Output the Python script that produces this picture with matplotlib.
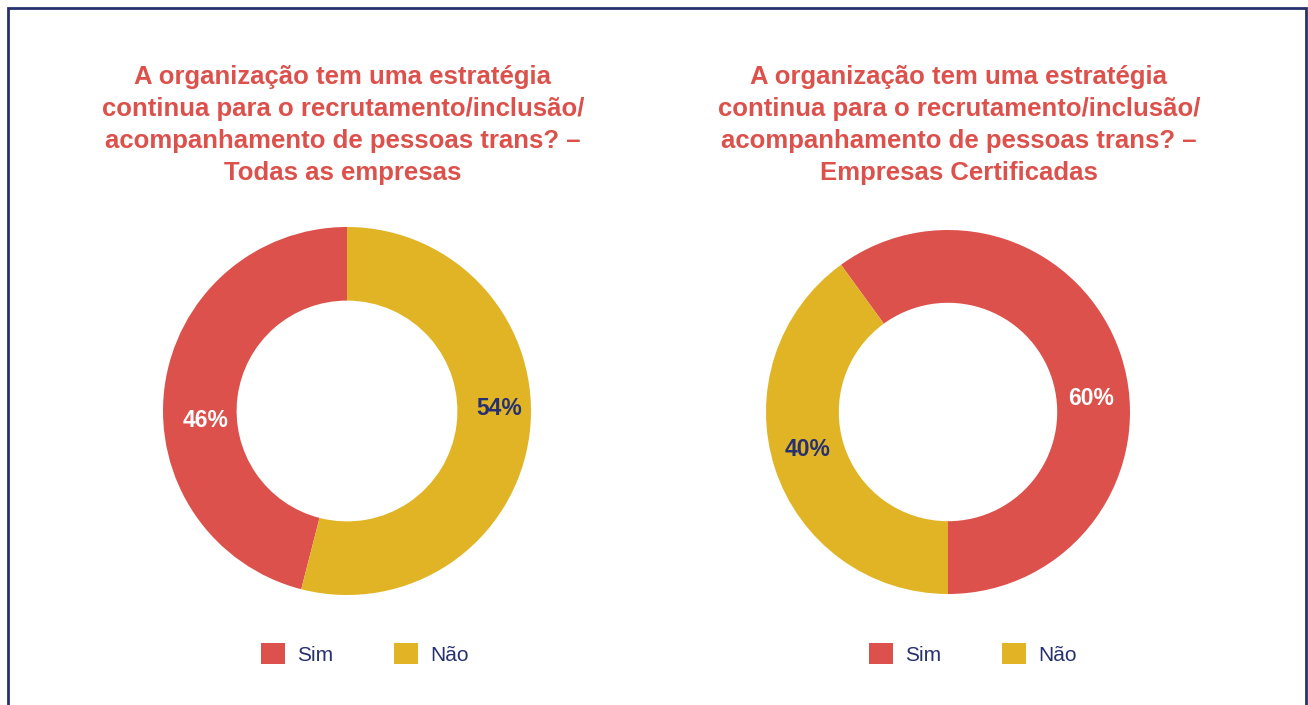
import numpy as np
import matplotlib
matplotlib.use("Agg")
import matplotlib.pyplot as plt
from matplotlib.patches import Patch, Rectangle

# colours
RED = '#dc514b'
YELLOW = '#e1b425'
NAVY = '#27316f'

plt.rcParams['font.family'] = ['Liberation Sans', 'DejaVu Sans']

categories = ['Sim', 'Não']
titles = [
    "A organização tem uma estratégia\ncontinua para o recrutamento/inclusão/\n"
    "acompanhamento de pessoas trans? –\nTodas as empresas",
    "A organização tem uma estratégia\ncontinua para o recrutamento/inclusão/\n"
    "acompanhamento de pessoas trans? –\nEmpresas Certificadas",
]
todas = [46, 54]
certificadas = [60, 40]

# chart layout (pixels on a 1308x705 canvas)
W, H = 1308, 705
panels = [
    dict(vals=todas, cx=347, cy=411, r=184, start=90, title_x=343,
         lab_ang=[184, 1], lab_r=[0.77, 0.83], legend_x=365),
    dict(vals=certificadas, cx=948, cy=412, r=182, start=270, title_x=959,
         lab_ang=[5.5, 195], lab_r=[0.79, 0.80], legend_x=973),
]
label_colors = ['white', NAVY]

fig = plt.figure(figsize=(W / 100, H / 100), dpi=100)
fig.patch.set_facecolor('white')

for p in panels:
    ax = fig.add_axes([(p['cx'] - p['r']) / W, (H - p['cy'] - p['r']) / H,
                       2 * p['r'] / W, 2 * p['r'] / H])
    ax.pie(p['vals'], colors=[RED, YELLOW], startangle=p['start'],
           counterclock=True, radius=1.0,
           wedgeprops=dict(width=0.4, edgecolor='none'))
    ax.set_xlim(-1, 1)
    ax.set_ylim(-1, 1)
    ax.set_aspect('equal')
    ax.axis('off')

    for v, ang, rr, c in zip(p['vals'], p['lab_ang'], p['lab_r'], label_colors):
        a = np.deg2rad(ang)
        ax.text(rr * np.cos(a), rr * np.sin(a), f"{v}%", ha='center', va='center',
                fontsize=16.5, fontweight='bold', color=c)

    handles = [Patch(facecolor=RED, edgecolor='none'),
               Patch(facecolor=YELLOW, edgecolor='none')]
    leg = fig.legend(handles, categories, ncol=2, loc='center',
                     bbox_to_anchor=(p['legend_x'] / W, (H - 654) / H),
                     frameon=False, fontsize=15, handlelength=1.15,
                     handleheight=1.15, handletextpad=0.6, columnspacing=2.9,
                     borderpad=0)
    for t in leg.get_texts():
        t.set_color(NAVY)

for t, p in zip(titles, panels):
    fig.text(p['title_x'] / W, (H - 65) / H, t, ha='center', va='top',
             fontsize=18.5, fontweight='bold', color=RED, linespacing=1.42)

# navy frame round the charts
fig.patches.append(Rectangle((8 / W, -0.05), (1306 - 8) / W, (H - 8) / H + 0.05,
                             transform=fig.transFigure, fill=False,
                             edgecolor=NAVY, linewidth=2.0, clip_on=False))

fig.savefig('out.png', dpi=100, facecolor='white')
